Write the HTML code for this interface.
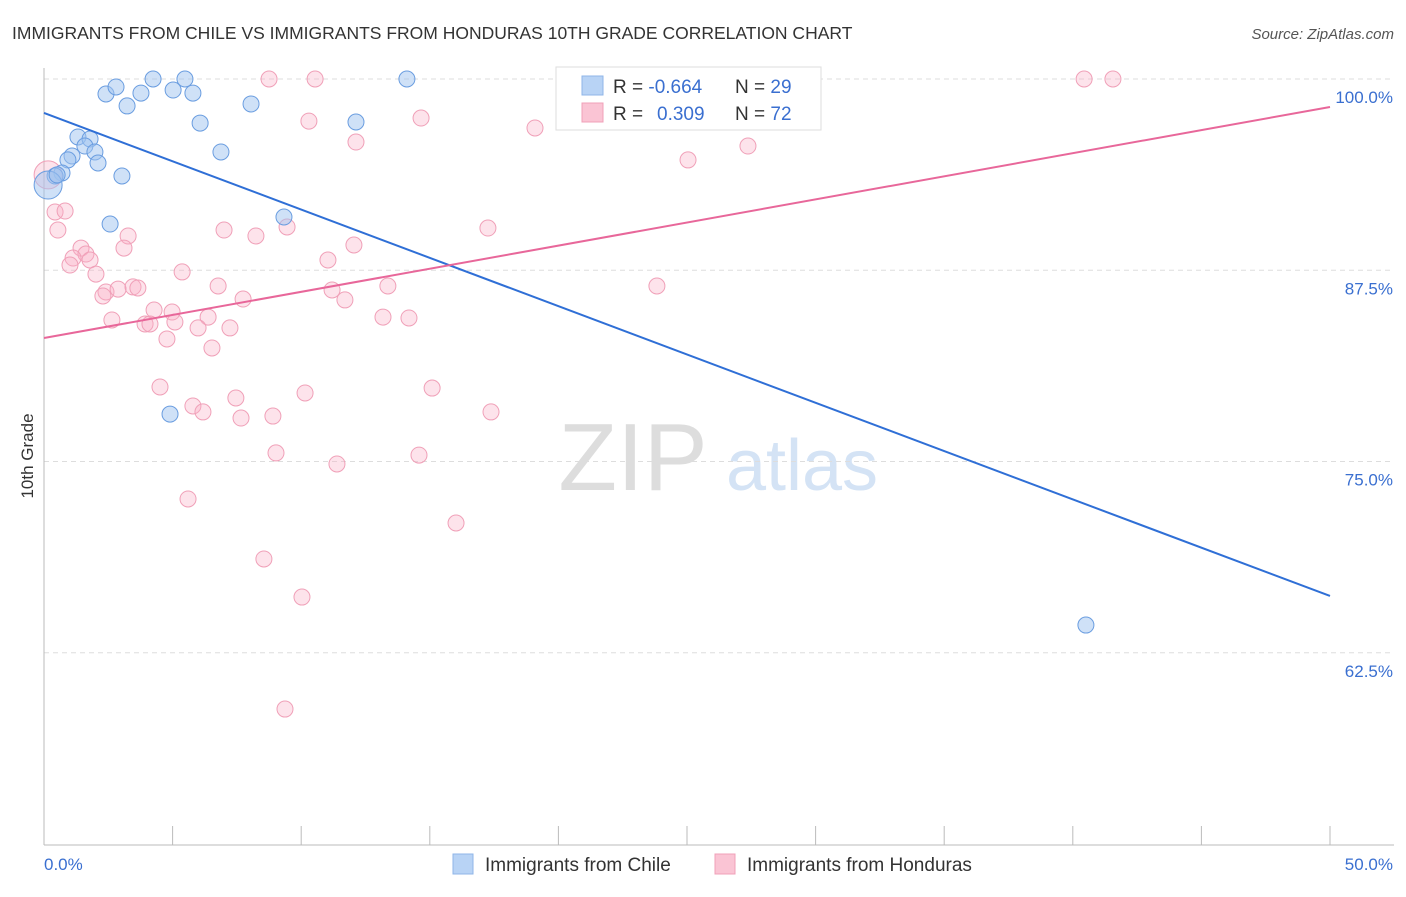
<!DOCTYPE html>
<html><head><meta charset="utf-8"><style>
body{margin:0;background:#fff;font-family:"Liberation Sans",sans-serif;}
svg text{font-family:"Liberation Sans",sans-serif;}
</style></head><body>
<svg id="chart" width="1406" height="892" xmlns="http://www.w3.org/2000/svg">
<text x="12" y="39" font-size="17.5" fill="#333">IMMIGRANTS FROM CHILE VS IMMIGRANTS FROM HONDURAS 10TH GRADE CORRELATION CHART</text>
<text x="1394" y="39" font-size="15" fill="#555" text-anchor="end" font-style="italic">Source: ZipAtlas.com</text>
<g>
<text x="633" y="490" font-size="96" fill="#ddd" font-family="Liberation Serif" text-anchor="middle">ZIP</text>
<text x="802" y="490" font-size="72" fill="#d4e3f5" text-anchor="middle">atlas</text>
</g>
<g id="grid"></g><g id="axes"></g><g id="pts"></g><g id="lines"></g>
<text transform="translate(33,456) rotate(-90)" font-size="17" fill="#333" text-anchor="middle">10th Grade</text>
<g>
<rect x="556" y="67" width="265" height="63" fill="#fff" stroke="#ddd"/>
<rect x="582" y="76" width="21" height="19" fill="#b8d3f5" stroke="#8fb6e8"/>
<rect x="582" y="103" width="21" height="19" fill="#fac4d4" stroke="#f0a0b8"/>
<text x="613" y="93" font-size="19" fill="#333">R = <tspan fill="#3a6fd0">-0.664</tspan></text>
<text x="735" y="93" font-size="19" fill="#333">N = <tspan fill="#3a6fd0">29</tspan></text>
<text x="613" y="120" font-size="19" fill="#333">R = <tspan fill="#3a6fd0" x="657">0.309</tspan></text>
<text x="735" y="120" font-size="19" fill="#333">N = <tspan fill="#3a6fd0">72</tspan></text>
</g>
<g>
<rect x="453" y="854" width="20" height="20" fill="#b8d3f5" stroke="#8fb6e8"/>
<text x="485" y="871" font-size="19" fill="#333">Immigrants from Chile</text>
<rect x="715" y="854" width="20" height="20" fill="#fac4d4" stroke="#f0a0b8"/>
<text x="747" y="871" font-size="19" fill="#333">Immigrants from Honduras</text>
</g>
</svg>
<script>
const yTicks=[100,87.5,75,62.5];
const yTickLabels=["100.0%","87.5%","75.0%","62.5%"];
const xTicks=[0,5,10,15,20,25,30,35,40,45,50];
const xEndLabels=["0.0%","50.0%"];
const chileX=[2.41,2.80,3.23,3.77,4.24,5.02,5.48,5.79,6.07,6.88,8.05,14.11,12.13,9.33,2.57,1.32,1.79,1.59,1.98,1.09,0.93,2.10,0.70,0.43,3.03,4.90,40.51,0.16,0.51];
const chileY=[99.02,99.48,98.24,99.08,100,99.28,100,99.08,97.12,95.23,98.37,100,97.19,90.98,90.52,96.21,96.08,95.62,95.23,94.97,94.71,94.51,93.86,93.66,93.66,78.10,64.31,93.07,93.73];
const hondX=[8.75,10.54,40.44,41.56,24.57,28.15,10.30,14.66,19.09,12.13,25.04,27.37,0.16,0.43,0.82,0.54,7.00,8.24,3.27,9.45,17.26,12.05,1.44,3.11,1.63,1.13,1.01,1.79,11.04,5.37,2.02,6.77,2.41,2.29,2.88,3.46,3.65,7.74,11.20,13.37,11.70,23.83,4.28,4.98,6.38,2.64,3.93,4.12,5.09,5.99,7.23,13.18,14.19,4.78,6.53,4.51,15.09,7.46,10.15,5.79,6.18,7.66,8.90,17.38,9.02,14.58,11.39,5.60,16.02,8.55,10.03,9.37];
const hondY=[100,100,100,100,100,100,97.25,97.45,96.80,95.88,94.71,95.62,93.73,91.31,91.37,90.13,90.13,89.74,89.74,90.33,90.26,89.15,88.95,88.95,88.56,88.30,87.84,88.17,88.17,87.39,87.25,86.47,86.08,85.82,86.27,86.41,86.34,85.62,86.21,86.47,85.56,86.47,84.90,84.77,84.44,84.25,83.99,83.99,84.12,83.73,83.73,84.44,84.38,83.01,82.42,79.87,79.80,79.15,79.48,78.63,78.24,77.84,77.97,78.24,75.56,75.42,74.84,72.55,70.98,68.63,66.14,58.82];
const chileTrend=[97.78,66.21];
const hondTrend=[83.07,98.17];
const NS="http://www.w3.org/2000/svg";
const X=v=>44+v*25.72, Y=v=>79+(100-v)*15.3;
function mk(tag,attrs,parent){const e=document.createElementNS(NS,tag);for(const k in attrs)e.setAttribute(k,attrs[k]);document.getElementById(parent).appendChild(e);return e;}
yTicks.forEach((t,i)=>{
 let l=mk('line',{x1:44,x2:1394,y1:Y(t),y2:Y(t),stroke:'#ddd','stroke-dasharray':'5,4'},'grid');
 
 
 let tx=mk('text',{x:1393,y:Y(t)+24,'font-size':17,fill:'#3a6fd0','text-anchor':'end'},'grid');tx.textContent=yTickLabels[i];
 
 
});
let ax=mk('line',{x1:44,x2:44,y1:68,y2:845,stroke:'#bbb'},'axes');


let bx=mk('line',{x1:44,x2:1394,y1:845,y2:845,stroke:'#bbb'},'axes');


xTicks.forEach(t=>{let l=mk('line',{x1:X(t),x2:X(t),y1:826,y2:845,stroke:'#bbb'},'axes');
 
 });
let xl0=mk('text',{x:44,y:870,'font-size':17,fill:'#3a6fd0'},'axes');xl0.textContent=xEndLabels[0];


let xl1=mk('text',{x:1393,y:870,'font-size':17,fill:'#3a6fd0','text-anchor':'end'},'axes');xl1.textContent=xEndLabels[1];


hondX.forEach((v,i)=>{let c=mk('circle',{cx:X(v),cy:Y(hondY[i]),r:i==12?14:8,fill:'rgba(248,176,198,0.35)',stroke:'#f0a0b8','stroke-width':1},'pts');
 
 });
chileX.forEach((v,i)=>{let c=mk('circle',{cx:X(v),cy:Y(chileY[i]),r:i==27?14:8,fill:'rgba(160,196,240,0.5)',stroke:'#6a9de0','stroke-width':1},'pts');
 
 });
let l1=mk('line',{x1:X(0),y1:Y(chileTrend[0]),x2:X(50),y2:Y(chileTrend[1]),stroke:'#2f6fd6','stroke-width':2},'lines');


let l2=mk('line',{x1:X(0),y1:Y(hondTrend[0]),x2:X(50),y2:Y(hondTrend[1]),stroke:'#e8679a','stroke-width':2},'lines');


</script>
</body></html>
